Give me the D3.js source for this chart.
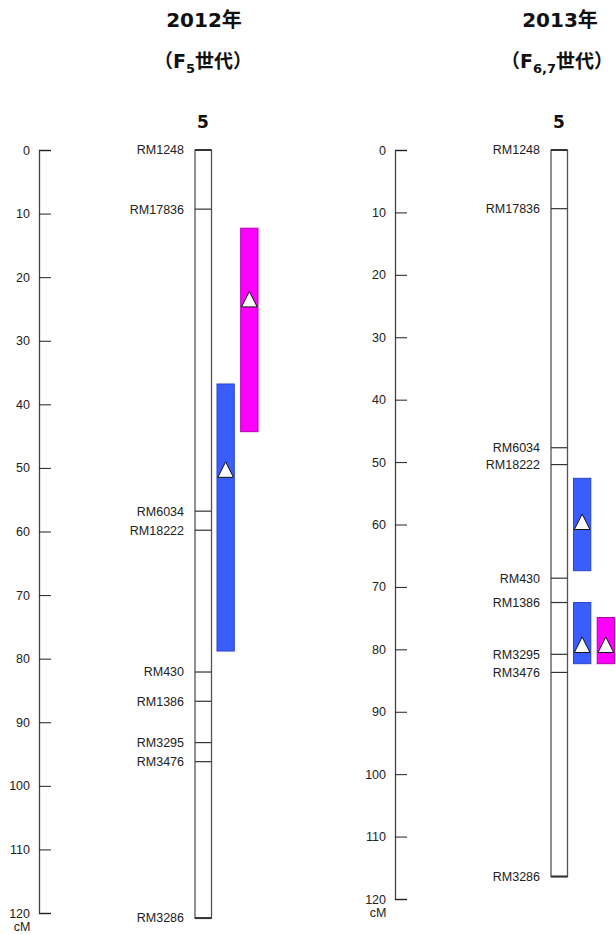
<!DOCTYPE html>
<html lang="ja">
<head>
<meta charset="UTF-8">
<script src="https://d3js.org/d3.v7.min.js"></script>
<style>
    body{ margin:0; background:#fff; }
    text{ font-family:"Liberation Sans", Arial, sans-serif; fill:#222; }
    .title{ font-family:"DejaVu Sans","Noto Sans CJK JP",sans-serif; font-weight:bold; font-size:20px; fill:#111; }
</style>
<title>QTL map</title>
</head>
<body>
<div class="canvas"></div>
<script>
    // --- data ---
    const years = ['2012年', '2013年'];
    const genSub = ['5', '6,7'];
    const chromName = '5';
    const axisTicks = [0, 10, 20, 30, 40, 50, 60, 70, 80, 90, 100, 110, 120];

    const markers2012 = ['RM1248','RM17836','RM6034','RM18222','RM430','RM1386','RM3295','RM3476','RM3286'];
    const cm2012 = [0, 9.3, 56.8, 59.8, 82.1, 86.7, 93.2, 96.2, 120.8];
    const markers2013 = ['RM1248','RM17836','RM6034','RM18222','RM430','RM1386','RM3295','RM3476','RM3286'];
    const cm2013 = [0, 9.4, 47.7, 50.4, 68.6, 72.5, 80.8, 83.7, 116.4];

    // QTL intervals: trait column, from cM, to cM, peak cM
    const qtlTrait2012 = [0, 1];
    const qtlFrom2012 = [36.8, 12.3];
    const qtlTo2012 = [78.8, 44.3];
    const qtlPeak2012 = [50.3, 23.5];

    const qtlTrait2013 = [0, 0, 1];
    const qtlFrom2013 = [52.6, 72.5, 74.9];
    const qtlTo2013 = [67.4, 82.3, 82.3];
    const qtlPeak2013 = [59.6, 79.3, 79.3];

    const width = 616, height = 935;
    const svg = d3.select('.canvas').append('svg')
        .attr('width', width).attr('height', height);

    const fill = d3.scaleOrdinal().domain([0, 1]).range(['#3a5dff', '#ff00ff']);
    const edge = d3.scaleOrdinal().domain([0, 1]).range(['#2a45c8', '#b000b0']);

    const panels = [
        {year: years[0], sub: genSub[0], names: markers2012, cm: cm2012,
         trait: qtlTrait2012, from: qtlFrom2012, to: qtlTo2012, peak: qtlPeak2012,
         axisX: 39, chromX: 195, cx: 204, cx2: 203, qx: [217, 258], yr: [150, 913]},
        {year: years[1], sub: genSub[1], names: markers2013, cm: cm2013,
         trait: qtlTrait2013, from: qtlFrom2013, to: qtlTo2013, peak: qtlPeak2013,
         axisX: 395, chromX: 551, cx: 560, cx2: 557, qx: [573.5, 614.5], yr: [150, 899]}
    ];

    panels.forEach(p => {
        const g = svg.append('g');
        const y = d3.scaleLinear().domain([0, 120]).range(p.yr);
        const col = d3.scaleBand().domain([0, 1]).range(p.qx).paddingInner(0.27);

        // titles
        g.append('text').attr('class', 'title')
            .attr('x', p.cx).attr('y', 27).attr('text-anchor', 'middle')
            .text(p.year);
        const t2 = g.append('text').attr('class', 'title')
            .attr('x', p.cx2).attr('y', 68).attr('text-anchor', 'middle')
            .style('font-size', '19px');
        t2.append('tspan').text('（F');
        t2.append('tspan').attr('dy', 5).style('font-size', '13px').text(p.sub);
        t2.append('tspan').attr('dy', -5).text('世代）');

        g.append('text').attr('class', 'title')
            .attr('x', p.chromX + 8).attr('y', 128).attr('text-anchor', 'middle')
            .style('font-size', '17px').text(chromName);

        // cM axis
        const axis = d3.axisLeft(y).tickValues(axisTicks)
            .tickSize(-12).tickSizeOuter(-12).tickPadding(9);
        const ax = g.append('g').attr('transform', `translate(${p.axisX},0)`).call(axis);
        ax.select('.domain').attr('stroke', '#444').attr('stroke-width', 1.3);
        ax.selectAll('.tick line').attr('stroke', '#222');
        ax.selectAll('.tick text').style('font-size', '12.5px')
            .style('font-family', '"Liberation Sans", Arial, sans-serif').attr('fill', '#222');
        g.append('text').attr('x', p.axisX - 17).attr('y', y(120) + 18)
            .attr('text-anchor', 'middle').style('font-size', '12.5px').text('cM');

        // chromosome
        const cw = 16.5;
        const top = y(d3.min(p.cm)), bot = y(d3.max(p.cm));
        g.append('rect').attr('x', p.chromX).attr('y', top)
            .attr('width', cw).attr('height', bot - top)
            .attr('fill', 'none').attr('stroke', '#555').attr('stroke-width', 1.3);
        g.selectAll('line.mk').data(p.cm).enter().append('line')
            .attr('x1', p.chromX).attr('x2', p.chromX + cw)
            .attr('y1', d => y(d)).attr('y2', d => y(d))
            .attr('stroke', '#333').attr('stroke-width', (d, i) => (i === 0 || i === p.cm.length - 1) ? 2 : 1.2);
        g.selectAll('text.mk').data(p.names).enter().append('text')
            .attr('x', p.chromX - 11).attr('y', (d, i) => y(p.cm[i]))
            .attr('dy', '0.35em').attr('text-anchor', 'end')
            .style('font-size', '12.5px').text(d => d);

        // QTL bars
        const idx = d3.range(p.trait.length);
        g.selectAll('rect.q').data(idx).enter().append('rect')
            .attr('x', i => col(p.trait[i])).attr('width', col.bandwidth())
            .attr('y', i => y(p.from[i])).attr('height', i => y(p.to[i]) - y(p.from[i]))
            .attr('fill', i => fill(p.trait[i])).attr('stroke', i => edge(p.trait[i]))
            .attr('stroke-width', 1);
        g.selectAll('path.pk').data(idx).enter().append('path')
            .attr('transform', i => `translate(${col(p.trait[i]) + col.bandwidth() / 2},${y(p.peak[i])})`)
            .attr('d', 'M0,-8L7.8,7.5L-7.8,7.5Z')
            .attr('fill', '#fff').attr('stroke', '#111').attr('stroke-width', 1);
    });
</script>
</body>
</html>
